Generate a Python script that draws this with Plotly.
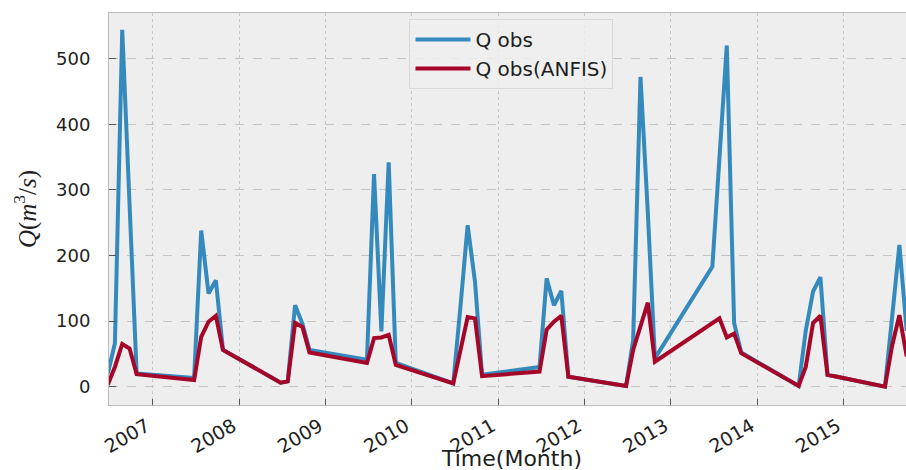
import plotly.graph_objects as go

# Monthly flow records: June to October of each year, 2006-2015
years = list(range(2006, 2016))
months = ["06", "07", "08", "09", "10"]
dates = [f"{y}-{m}-25" for y in years for m in months][:-1]  # series ends Sep 2015

q_obs = [
    20, 66, 544, 280, 20,      # 2006
    13, 238, 142, 162, 56,     # 2007
    6, 8, 124, 96, 56,         # 2008
    41, 324, 84, 342, 36,      # 2009
    5, 120, 246, 160, 18,      # 2010
    30, 165, 124, 146, 15,     # 2011
    1, 71, 472, 265, 43,       # 2012
    183, 340, 520, 97, 52,     # 2013
    1, 85, 145, 167, 18,       # 2014
    0, 105, 216, 85,           # 2015
]
q_anfis = [
    3, 30, 65, 58, 19,         # 2006
    10, 76, 99, 108, 56,       # 2007
    6, 8, 97, 91, 52,          # 2008
    36, 74, 75, 79, 33,        # 2009
    5, 55, 106, 104, 16,       # 2010
    23, 87, 99, 108, 15,       # 2011
    1, 56, 92, 128, 38,        # 2012
    97, 104, 75, 81, 51,       # 2013
    1, 30, 97, 108, 18,        # 2014
    0, 62, 109, 46,            # 2015
]

tick_years = list(range(2007, 2016))
tick_dates = [f"{y}-01-01" for y in tick_years]
tick_labels = [str(y) for y in tick_years]
y_ticks = [0, 100, 200, 300, 400, 500]

fig = go.Figure()
fig.add_trace(go.Scatter(
    x=dates, y=q_obs, mode="lines", name="Q obs",
    line=dict(color="#348ABD", width=4),
))
fig.add_trace(go.Scatter(
    x=dates, y=q_anfis, mode="lines", name="Q obs(ANFIS)",
    line=dict(color="#A60628", width=4),
))

fig.update_layout(
    width=906, height=470,
    margin=dict(l=109, r=0, t=13, b=65, autoexpand=False),
    paper_bgcolor="white",
    plot_bgcolor="#eeeeee",
    font=dict(family="DejaVu Sans", size=19, color="#1e1e1e"),
    showlegend=True,
    legend=dict(
        x=0.505, xanchor="center", y=0.985, yanchor="top",
        bgcolor="rgba(238,238,238,0.85)",
        bordercolor="#d8d8d8", borderwidth=1,
        itemwidth=55, tracegroupgap=0,
        font=dict(family="DejaVu Sans", size=20, color="#1e1e1e"),
    ),
    xaxis=dict(
        type="date",
        range=["2006-06-30", "2015-09-22"],
        automargin=False,
        tickmode="array", tickvals=tick_dates, ticktext=tick_labels,
        tickangle=-30,
        ticks="inside", ticklen=6, tickwidth=1.2, tickcolor="#555555",
        showgrid=True, gridcolor="#c4c4c4", gridwidth=1, griddash="dot",
        showline=True, linecolor="#bcbcbc", linewidth=1, mirror=True,
        zeroline=False,
        tickfont=dict(size=19),
        ticklabelshift=-6,
        ticklabelstandoff=2,
    ),
    yaxis=dict(
        range=[-28, 569.5],
        automargin=False,
        tickmode="array", tickvals=y_ticks,
        ticks="inside", ticklen=7, tickwidth=1.2, tickcolor="#555555",
        showgrid=True, gridcolor="#c4c4c4", gridwidth=1, griddash="dash",
        showline=True, linecolor="#bcbcbc", linewidth=1, mirror=True,
        zeroline=False,
        tickfont=dict(size=18),
        ticklabelstandoff=14,
        title=dict(
            text="<i>Q</i>(<i>m</i><sup>3</sup>/<i>s</i>)",
            font=dict(family="Liberation Serif", size=25),
            standoff=12,
        ),
    ),
    annotations=[
        dict(
            text="Time(Month)", xref="paper", yref="paper",
            x=0.505, y=-0.1, xanchor="center", yanchor="top",
            showarrow=False, font=dict(family="DejaVu Sans", size=22, color="#1e1e1e"),
        )
    ],
)

fig.write_html("out.html")
